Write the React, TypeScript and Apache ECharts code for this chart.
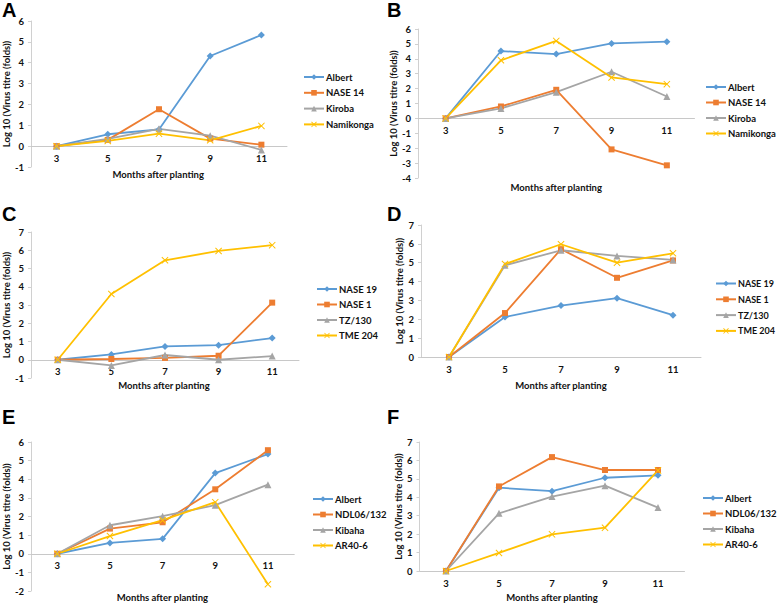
import React, { useEffect, useRef } from "react";
import * as echarts from "echarts";

const months = ["3", "5", "7", "9", "11"];

// Panel A
const namesA = ["Albert", "NASE 14", "Kiroba", "Namikonga"];
const aAlbert = [0, 0.57, 0.8, 4.32, 5.33];
const aNase14 = [0, 0.3, 1.77, 0.36, 0.07];
const aKiroba = [0, 0.35, 0.83, 0.5, -0.18];
const aNamikonga = [0, 0.25, 0.6, 0.28, 0.97];

// Panel B
const namesB = ["Albert", "NASE 14", "Kiroba", "Namikonga"];
const bAlbert = [0, 4.52, 4.32, 5.03, 5.15];
const bNase14 = [0, 0.8, 1.92, -2.08, -3.15];
const bKiroba = [0, 0.67, 1.76, 3.13, 1.47];
const bNamikonga = [0, 3.9, 5.2, 2.75, 2.3];

// Panel C
const namesC = ["NASE 19", "NASE 1", "TZ/130", "TME 204"];
const cNase19 = [0, 0.29, 0.73, 0.8, 1.19];
const cNase1 = [0, 0.04, 0.1, 0.22, 3.13];
const cTz130 = [0, -0.31, 0.26, 0.0, 0.2];
const cTme204 = [0, 3.6, 5.45, 5.96, 6.28];

// Panel D
const namesD = ["NASE 19", "NASE 1", "TZ/130", "TME 204"];
const dNase19 = [0, 2.12, 2.73, 3.12, 2.22];
const dNase1 = [0, 2.33, 5.72, 4.2, 5.12];
const dTz130 = [0, 4.86, 5.66, 5.36, 5.15];
const dTme204 = [0, 4.93, 5.98, 5.0, 5.5];

// Panel E
const namesE = ["Albert", "NDL06/132", "Kibaha", "AR40-6"];
const eAlbert = [0, 0.58, 0.8, 4.33, 5.35];
const eNdl = [0, 1.35, 1.69, 3.46, 5.56];
const eKibaha = [0, 1.53, 2.02, 2.61, 3.71];
const eAr406 = [0, 0.95, 1.8, 2.77, -1.64];

// Panel F
const namesF = ["Albert", "NDL06/132", "Kibaha", "AR40-6"];
const fAlbert = [0, 4.52, 4.33, 5.06, 5.19];
const fNdl = [0, 4.59, 6.18, 5.48, 5.48];
const fKibaha = [0, 3.13, 4.04, 4.63, 3.44];
const fAr406 = [0, 0.98, 1.99, 2.35, 5.46];

const panelLetters = ["A", "B", "C", "D", "E", "F"];
const xTitle = "Months after planting";
const yTitle = "Log 10 (Virus titre (folds))";

const COLORS = ["#5B9BD5", "#ED7D31", "#A5A5A5", "#FFC000"];
const X_MARK = "path://M0,1L1,0L5,4L9,0L10,1L6,5L10,9L9,10L5,6L1,10L0,9L4,5Z";
const SYMBOLS = ["diamond", "rect", "triangle", X_MARK];
const SYMBOL_SIZES = [7, 6, 7, 7];
const FONT = "Lato, 'Open Sans', sans-serif";
const TEXT = "#111";

const panels = [
  { names: namesA, data: [aAlbert, aNase14, aKiroba, aNamikonga], min: -1, max: 6,
    grid: { left: 29.5, top: 21, width: 257.5, height: 146 }, xTitleY: 174, yGap: 18,
    legend: { left: 298, top: 67, gap: 5.8, font: 9.5 }, label: { x: 2, y: 0 } },
  { names: namesB, data: [bAlbert, bNase14, bKiroba, bNamikonga], min: -4, max: 6,
    grid: { left: 418, top: 29, width: 276.5, height: 149 }, xTitleY: 187, yGap: 15,
    legend: { left: 700, top: 77, gap: 5.5, font: 9.5 }, label: { x: 387, y: 0 } },
  { names: namesC, data: [cNase19, cNase1, cTz130, cTme204], min: -1, max: 7,
    grid: { left: 29, top: 232, width: 270, height: 146 }, xTitleY: 385, yGap: 17,
    legend: { left: 311, top: 279, gap: 5.5, font: 9.5 }, label: { x: 2, y: 204 } },
  { names: namesD, data: [dNase19, dNase1, dTz130, dTme204], min: 0, max: 7,
    grid: { left: 421, top: 225, width: 280, height: 132 }, xTitleY: 385, yGap: 16,
    legend: { left: 710, top: 274, gap: 6.8, font: 9 }, label: { x: 387, y: 204 } },
  { names: namesE, data: [eAlbert, eNdl, eKibaha, eAr406], min: -2, max: 6,
    grid: { left: 30.5, top: 442, width: 263.75, height: 149 }, xTitleY: 597, yGap: 18,
    legend: { left: 307, top: 489, gap: 5.5, font: 9.5 }, label: { x: 2, y: 407 } },
  { names: namesF, data: [fAlbert, fNdl, fKibaha, fAr406], min: 0, max: 7,
    grid: { left: 419.5, top: 442, width: 265, height: 129 }, xTitleY: 597, yGap: 15.5,
    legend: { left: 697, top: 488, gap: 5.5, font: 9.5 }, label: { x: 387, y: 407 } },
];

function buildOption() {
  const grid: any[] = [];
  const xAxis: any[] = [];
  const yAxis: any[] = [];
  const series: any[] = [];
  const legend: any[] = [];
  const graphic: any[] = [];

  panels.forEach((p, i) => {
    grid.push({ ...p.grid, containLabel: false });
    // move the category axis up to the value 0 line
    const zeroOffset = -(p.grid.height * (0 - p.min)) / (p.max - p.min);
    xAxis.push({
      type: "category",
      gridIndex: i,
      data: months,
      boundaryGap: true,
      position: "bottom",
      offset: zeroOffset,
      axisLine: { show: true, onZero: false, lineStyle: { color: "#C8C8C8", width: 1 } },
      axisTick: { show: false },
      axisLabel: { fontFamily: FONT, fontWeight: "bold", fontSize: 9.5, color: TEXT, margin: 7 },
      splitLine: { show: false },
    });
    yAxis.push({
      type: "value",
      gridIndex: i,
      min: p.min,
      max: p.max,
      interval: 1,
      axisLine: { show: true, lineStyle: { color: "#D0D0D0", width: 1 } },
      axisTick: { show: true, length: 3, lineStyle: { color: "#D0D0D0" } },
      axisLabel: { fontFamily: FONT, fontWeight: "bold", fontSize: 9.5, color: TEXT, margin: 7 },
      splitLine: { show: false },
      name: yTitle,
      nameLocation: "middle",
      nameGap: p.yGap,
      nameTextStyle: { fontFamily: FONT, fontWeight: "bold", fontSize: 9.5, color: TEXT },
    });
    p.names.forEach((n, k) => {
      series.push({
        type: "line",
        name: n,
        xAxisIndex: i,
        yAxisIndex: i,
        data: p.data[k],
        symbol: SYMBOLS[k],
        symbolSize: SYMBOL_SIZES[k],
        showSymbol: true,
        lineStyle: { color: COLORS[k], width: 1.8 },
        itemStyle: { color: COLORS[k] },
        emphasis: { disabled: true },
      });
    });
    legend.push({
      orient: "vertical",
      left: p.legend.left,
      top: p.legend.top,
      itemWidth: 20,
      itemHeight: 7,
      itemGap: p.legend.gap,
      selectedMode: false,
      data: p.names,
      textStyle: { fontFamily: FONT, fontWeight: "bold", fontSize: p.legend.font, color: TEXT, padding: [0, 0, 0, -3] },
    });
    graphic.push({
      type: "text",
      x: p.grid.left + p.grid.width / 2,
      y: p.xTitleY,
      style: {
        text: xTitle,
        fontFamily: FONT,
        fontWeight: "bold",
        fontSize: 9.5,
        fill: TEXT,
        align: "center",
        verticalAlign: "middle",
      },
    });
    graphic.push({
      type: "text",
      x: p.label.x,
      y: p.label.y,
      style: {
        text: panelLetters[i],
        fontFamily: "'Liberation Sans', Arial, sans-serif",
        fontWeight: "bold",
        fontSize: 20,
        fill: "#000",
        verticalAlign: "top",
        align: "left",
      },
    });
  });

  return {
    animation: false,
    backgroundColor: "#ffffff",
    grid,
    xAxis,
    yAxis,
    series,
    legend,
    graphic,
  };
}

export default function App() {
  const ref = useRef<HTMLDivElement>(null);
  useEffect(() => {
    document.body.style.margin = "0";
    const chart = echarts.init(ref.current!, undefined, { renderer: "svg" });
    chart.setOption(buildOption() as any);
    return () => chart.dispose();
  }, []);
  return (
    <div
      ref={ref}
      style={{ position: "fixed", left: 0, top: 0, width: 778, height: 605, background: "#fff" }}
    />
  );
}
